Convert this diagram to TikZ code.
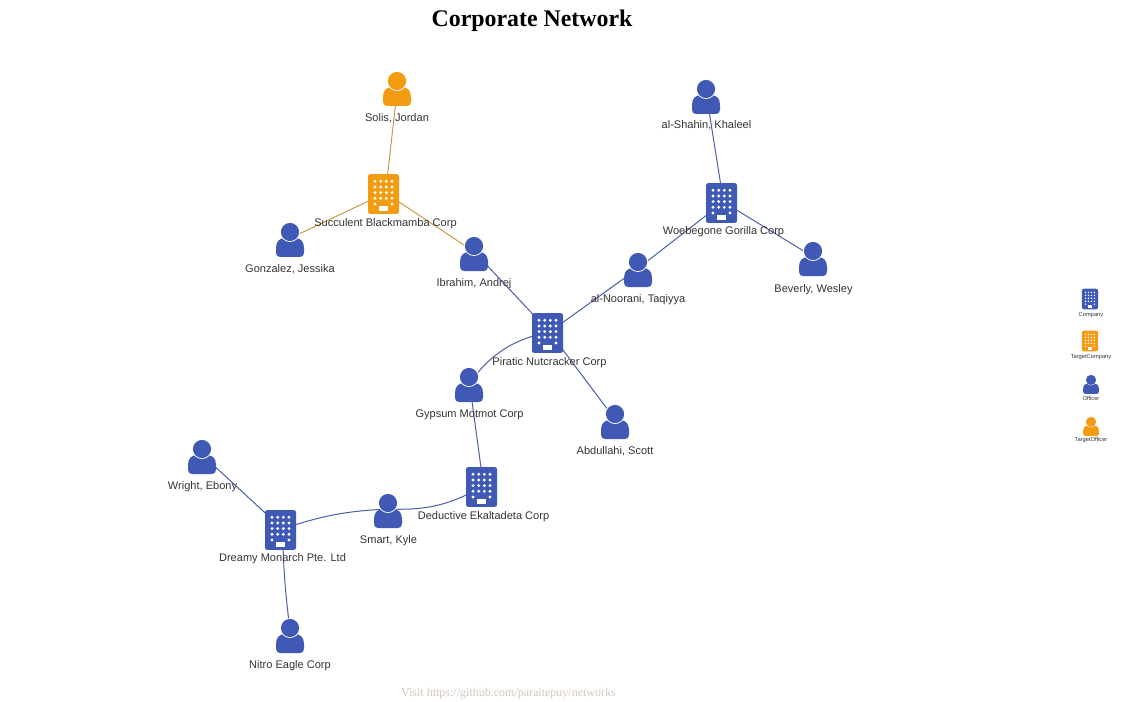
\documentclass[tikz,border=0pt]{standalone}
\usepackage{fontspec}
\setmainfont{Liberation Sans}
\newfontfamily\serifface{Liberation Serif}
\definecolor{cblue}{HTML}{3F59B5}
\definecolor{corange}{HTML}{F39C12}
\definecolor{lblue}{HTML}{4A5FA8}
\definecolor{lorange}{HTML}{C99A45}
\definecolor{txt}{HTML}{333333}
\definecolor{foot}{HTML}{D0C6BE}
\newcommand{\companyicon}[3][1]{%
  \begin{scope}[shift={(#2.center)},scale=#1,shift={(-2,1)}]
    \fill[#3,rounded corners=1.5] (-15.5,-19.8) rectangle (15.5,19.8);
    \foreach \cx in {-8.5,-2.8,2.8,8.5}\foreach \cy in {-12.7,-7,-1.4,4.3}
      \fill[white] (\cx,\cy) circle (1.6);
    \foreach \cx in {-8.5,8.5}
      \fill[white] (\cx,10) circle (1.6);
    \fill[white] (-4.3,11.6) rectangle (4.3,17);
  \end{scope}}
\newcommand{\officericon}[3][1]{%
  \begin{scope}[shift={(#2.center)},scale=#1,shift={(-0.5,3)}]
    \fill[#3] (-14,11.5) -- (-14,7) .. controls (-14,0.5) and (-10.5,-3) .. (-5,-3)
      -- (5,-3) .. controls (10.5,-3) and (14,0.5) .. (14,7)
      -- (14,11.5) .. controls (14,14.5) and (12.5,16) .. (10,16) -- (-10,16)
      .. controls (-12.5,16) and (-14,14.5) .. (-14,11.5) -- cycle;
    \fill[white] (0,-9) circle (10);
    \fill[#3] (0,-9) circle (9.1);
  \end{scope}}
\tikzset{
  anchorpt/.style={inner sep=0pt,minimum size=0pt,outer sep=0pt},
  lab/.style={inner sep=0pt,anchor=base,yshift=-3.6pt,font=\fontsize{8.28pt}{10pt}\selectfont,text=txt},
  leg/.style={inner sep=0pt,anchor=base,yshift=-1.6pt,font=\fontsize{4.3pt}{5pt}\selectfont,text=txt},
  edgeb/.style={draw=lblue,line width=0.75pt},
  edgeo/.style={draw=lorange,line width=0.75pt}
}
\begin{document}
\begin{tikzpicture}[x=0.75pt,y=-0.75pt]
\useasboundingbox (0,0) rectangle (1127,702);
% positions
\node[anchorpt] (solis) at (397.5,87) {};
\node[anchorpt] (shahin) at (706.5,95) {};
\node[anchorpt] (gonzalez) at (290.5,238) {};
\node[anchorpt] (ibrahim) at (474.5,252) {};
\node[anchorpt] (noorani) at (638.5,268) {};
\node[anchorpt] (beverly) at (813.5,257) {};
\node[anchorpt] (gypsum) at (469.5,383) {};
\node[anchorpt] (abdullahi) at (615.5,420) {};
\node[anchorpt] (wright) at (202.5,455) {};
\node[anchorpt] (smart) at (388.5,509) {};
\node[anchorpt] (nitro) at (290.5,634) {};
\node[anchorpt] (succulent) at (385.5,193) {};
\node[anchorpt] (woebegone) at (723.5,202) {};
\node[anchorpt] (piratic) at (549.5,332) {};
\node[anchorpt] (deductive) at (483.5,486) {};
\node[anchorpt] (dreamy) at (282.5,529) {};
\node[anchorpt] (lgcompany) at (1091,298.5) {};
\node[anchorpt] (lgtcompany) at (1091,340.5) {};
\node[anchorpt] (lgofficer) at (1091.3,383.3) {};
\node[anchorpt] (lgtofficer) at (1091.3,425.3) {};
% connectors
\draw[edgeo] (solis.center) -- (succulent.center);
\draw[edgeo] (gonzalez.center) -- (succulent.center);
\draw[edgeo] (ibrahim.center) -- (succulent.center);
\draw[edgeb] (shahin.center) -- (woebegone.center);
\draw[edgeb] (noorani.center) -- (woebegone.center);
\draw[edgeb] (beverly.center) -- (woebegone.center);
\draw[edgeb] (noorani.center) -- (piratic.center);
\draw[edgeb] (ibrahim.center) -- (piratic.center);
\draw[edgeb] (abdullahi.center) -- (piratic.center);
\draw[edgeb] (gypsum.center) to[bend left=21] (piratic.center);
\draw[edgeb] (gypsum.center) -- (deductive.center);
\draw[edgeb] (smart.center) to[bend right=16] (deductive.center);
\draw[edgeb] (dreamy.center) to[bend left=8] (smart.center);
\draw[edgeb] (wright.center) -- (dreamy.center);
\draw[edgeb] (dreamy.center) to[bend right=3] (nitro.center);
% icons
\officericon{solis}{corange}
\officericon{shahin}{cblue}
\officericon{gonzalez}{cblue}
\officericon{ibrahim}{cblue}
\officericon{noorani}{cblue}
\officericon{beverly}{cblue}
\officericon{gypsum}{cblue}
\officericon{abdullahi}{cblue}
\officericon{wright}{cblue}
\officericon{smart}{cblue}
\officericon{nitro}{cblue}
\companyicon{succulent}{corange}
\companyicon{woebegone}{cblue}
\companyicon{piratic}{cblue}
\companyicon{deductive}{cblue}
\companyicon{dreamy}{cblue}
\companyicon[0.52]{lgcompany}{cblue}
\companyicon[0.52]{lgtcompany}{corange}
\officericon[0.56]{lgofficer}{cblue}
\officericon[0.56]{lgtofficer}{corange}
% labels
\node[lab] (tsolis) at (397,117) {Solis, Jordan};
\node[lab] (tshahin) at (706.5,124) {al-Shahin, Khaleel};
\node[lab] (tgonzalez) at (290,268) {Gonzalez, Jessika};
\node[lab] (tibrahim) at (474,282) {Ibrahim, Andrej};
\node[lab] (tnoorani) at (638,298) {al-Noorani, Taqiyya};
\node[lab] (tbeverly) at (813.5,288) {Beverly, Wesley};
\node[lab] (tgypsum) at (469.5,413) {Gypsum Motmot Corp};
\node[lab] (tabdullahi) at (615,450) {Abdullahi, Scott};
\node[lab] (twright) at (202.5,485) {Wright, Ebony};
\node[lab] (tsmart) at (388.5,539) {Smart, Kyle};
\node[lab] (tnitro) at (290,664) {Nitro Eagle Corp};
\node[lab] (tsucculent) at (385.5,222) {Succulent Blackmamba Corp};
\node[lab] (twoebegone) at (723.5,230) {Woebegone Gorilla Corp};
\node[lab] (tpiratic) at (549.5,361) {Piratic Nutcracker Corp};
\node[lab] (tdeductive) at (483.5,515) {Deductive Ekaltadeta Corp};
\node[lab] (tdreamy) at (282.5,557) {Dreamy Monarch Pte. Ltd};
\node[leg] (llgcompany) at (1091,314) {Company};
\node[leg] (llgtcompany) at (1091,356) {TargetCompany};
\node[leg] (llgofficer) at (1091,398) {Officer};
\node[leg] (llgtofficer) at (1091,439.5) {TargetOfficer};
\node[inner sep=0pt,anchor=base] (title) at (532,26.5) {\fontsize{17.9pt}{20pt}\selectfont\serifface\bfseries Corporate Network};
\node[inner sep=0pt,anchor=base,text=foot] (footer) at (508.5,696) {\fontsize{9pt}{11pt}\selectfont\serifface Visit https://github.com/paraitepuy/networks};
\end{tikzpicture}
\end{document}
